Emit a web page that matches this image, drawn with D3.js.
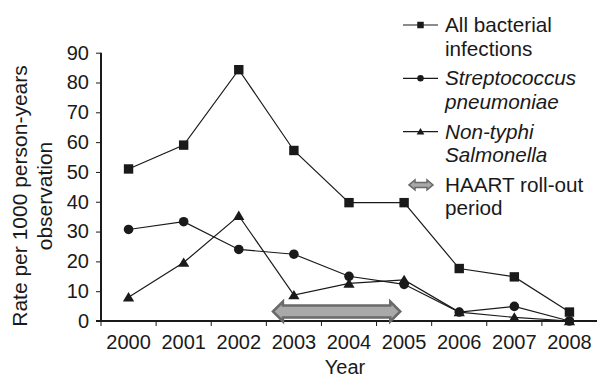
<!DOCTYPE html>
<html><head><meta charset="utf-8">
<script src="https://cdn.jsdelivr.net/npm/d3@7"></script>
<style>body{margin:0;background:#fff}svg{display:block}text{font-family:"Liberation Sans",Arial,sans-serif;fill:#1a1a1a}</style>
</head><body><svg id="c" width="597" height="378"></svg>
<script>
const years = [2000,2001,2002,2003,2004,2005,2006,2007,2008];
const allBacterial = [51,59,84.3,57.2,39.7,39.7,17.6,14.8,3];
const strepPneumoniae = [30.7,33.3,24,22.4,15,12.3,3,4.9,0];
const nonTyphiSalmonella = [8,19.6,35.3,8.7,12.6,13.8,3,1.2,0];
const yTicks = [0,10,20,30,40,50,60,70,80,90];
const haartPeriod = [2002.62, 2004.93];
const legendItems = [
  {lines:["All bacterial","infections"], italic:false, marker:"square"},
  {lines:["Streptococcus","pneumoniae"], italic:true, marker:"circle"},
  {lines:["Non-typhi","Salmonella"], italic:true, marker:"triangle"},
  {lines:["HAART roll-out","period"], italic:false, marker:"arrow"}
];

const svg = d3.select("#c");
const ink = "#1a1a1a";
const x = d3.scaleBand().domain(years).range([101,597]).padding(0);
const xc = d => x(d) + x.bandwidth()/2;
const xl = d3.scaleLinear().domain([1999.5,2008.5]).range([101,597]);
const y = d3.scaleLinear().domain([0,90]).range([321,52.7]);

// y axis
const ya = svg.append("g").attr("transform","translate(101,0)")
  .call(d3.axisLeft(y).tickValues(yTicks).tickSize(5).tickPadding(7).tickSizeOuter(0));
ya.select(".domain").attr("stroke",ink).attr("stroke-width",2).attr("d","M0,52.7V321");
ya.selectAll(".tick line").attr("stroke",ink).attr("stroke-width",1);
ya.selectAll(".tick text").attr("font-size",20).attr("fill",ink).style("font-family","Liberation Sans, Arial, sans-serif");

// x axis
const xa = svg.append("g").attr("transform","translate(0,321)")
  .call(d3.axisBottom(x).tickSize(0).tickPadding(14).tickSizeOuter(0));
xa.select(".domain").attr("stroke",ink).attr("stroke-width",2).attr("d","M96,0H597");
xa.selectAll(".tick text").attr("font-size",20).attr("fill",ink).style("font-family","Liberation Sans, Arial, sans-serif");
svg.append("g").selectAll("line").data(years).join("line")
  .attr("x1",d=>x(d)).attr("x2",d=>x(d)).attr("y1",321).attr("y2",326)
  .attr("stroke",ink).attr("stroke-width",1);

// titles
svg.append("text").attr("x",345).attr("y",374).attr("text-anchor","middle").attr("font-size",20).text("Year");
const yt = svg.append("text").attr("transform","translate(0,196) rotate(-90)").attr("text-anchor","middle").attr("font-size",21);
yt.append("tspan").attr("x",0).attr("y",27).text("Rate per 1000 person-years");
yt.append("tspan").attr("x",0).attr("y",52).text("observation");

// arrow shape
function arrowPath(x0,x1,cy,hh,sh,hl){
  return `M${x0},${cy}L${x0+hl},${cy-hh}L${x0+hl},${cy-sh}L${x1-hl},${cy-sh}L${x1-hl},${cy-hh}L${x1},${cy}L${x1-hl},${cy+hh}L${x1-hl},${cy+sh}L${x0+hl},${cy+sh}L${x0+hl},${cy+hh}Z`;
}
svg.append("path").attr("d",arrowPath(xl(haartPeriod[0]),xl(haartPeriod[1]),311.5,10,6,10))
  .attr("fill","#a9a9a9").attr("stroke","#6a6a6a").attr("stroke-width",2.5).attr("stroke-linejoin","miter");

// series
const series = [
  {vals:allBacterial, marker:"square"},
  {vals:strepPneumoniae, marker:"circle"},
  {vals:nonTyphiSalmonella, marker:"triangle"}
];
const line = d3.line().x((d,i)=>xc(years[i])).y(d=>y(d));
function drawMarker(g,type,cx,cy,s){
  if(type==="square") g.append("rect").attr("x",cx-s/2).attr("y",cy-s/2).attr("width",s).attr("height",s).attr("fill",ink);
  else if(type==="circle") g.append("circle").attr("cx",cx).attr("cy",cy).attr("r",s/2).attr("fill",ink);
  else if(type==="triangle") g.append("path").attr("d",`M${cx},${cy-s*0.55}L${cx+s*0.6},${cy+s*0.45}L${cx-s*0.6},${cy+s*0.45}Z`).attr("fill",ink);
}
series.slice().reverse().forEach(s=>{
  const g = svg.append("g");
  g.append("path").attr("d",line(s.vals)).attr("fill","none").attr("stroke",ink).attr("stroke-width",1.2);
  s.vals.forEach((v,i)=>drawMarker(g,s.marker,xc(years[i]),y(v),s.marker==="circle"?9.6:9.4));
});

// legend
legendItems.forEach((it,i)=>{
  const base = 32 + i*53.3;
  const cy = base - 7;
  const g = svg.append("g");
  if(it.marker==="arrow"){
    g.append("path").attr("d",arrowPath(409,433,cy,5,2.5,6)).attr("fill","#a9a9a9").attr("stroke","#6a6a6a").attr("stroke-width",1.5);
  } else {
    g.append("line").attr("x1",403).attr("x2",438).attr("y1",cy).attr("y2",cy).attr("stroke",ink).attr("stroke-width",1.2);
    drawMarker(g,it.marker,420.5,cy,6.5);
  }
  const t = g.append("text").attr("font-size",20.7).attr("font-style",it.italic?"italic":"normal");
  it.lines.forEach((l,j)=>t.append("tspan").attr("x",445).attr("y",base+j*23.5).text(l));
});
</script></body></html>
